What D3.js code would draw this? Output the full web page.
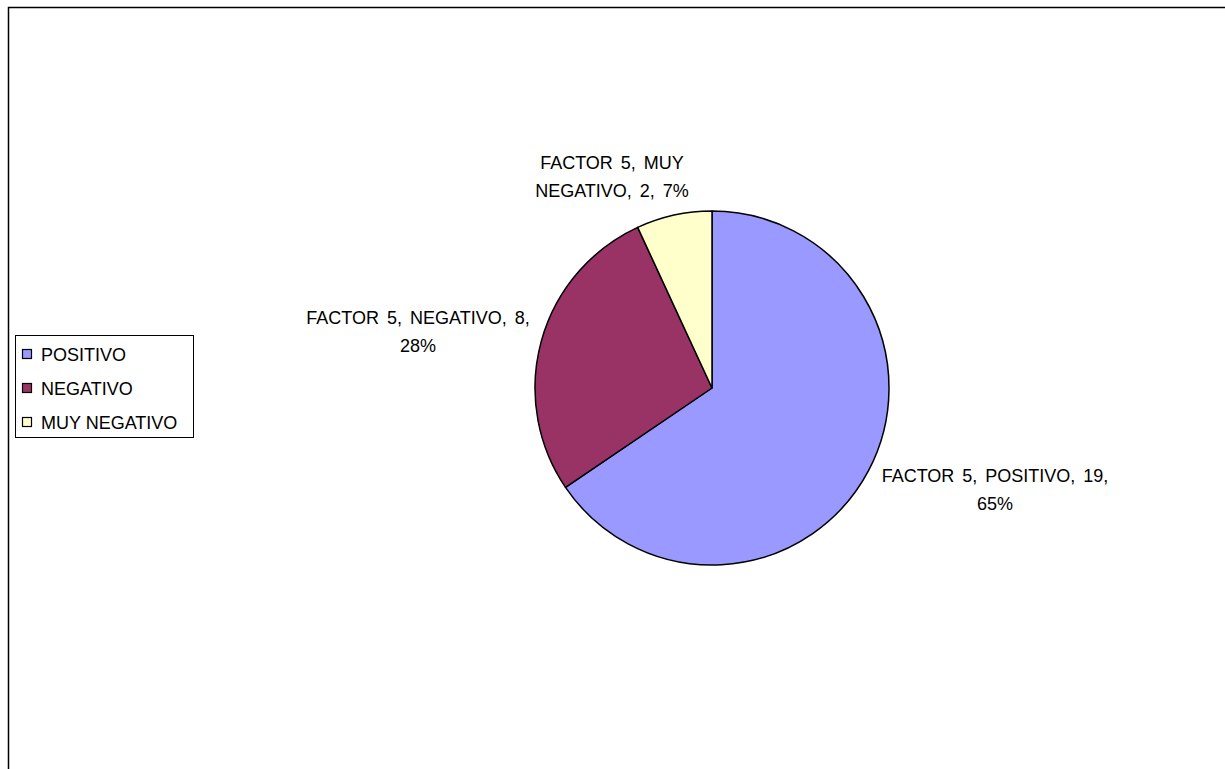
<!DOCTYPE html>
<html>
<head>
<meta charset="utf-8">
<script src="https://cdn.jsdelivr.net/npm/d3@7"></script>
<style>
html,body{margin:0;padding:0;background:#fff;}
svg{display:block;}
text{font-family:"Liberation Sans",Arial,sans-serif;fill:#000;}
</style>
</head>
<body>
<svg id="chart" width="1225" height="769"></svg>
<script>
const categories = ["POSITIVO", "NEGATIVO", "MUY NEGATIVO"];
const values = [19, 8, 2];
const percentLabels = ["65%", "28%", "7%"];
const seriesName = "FACTOR 5";
const colors = ["#9999FF", "#993366", "#FFFFCC"];

// data label lines (wrapped as in the reference)
const labelLines = [
  [seriesName + ", " + categories[0] + ", " + values[0] + ",", percentLabels[0]],
  [seriesName + ", " + categories[1] + ", " + values[1] + ",", percentLabels[1]],
  [seriesName + ", MUY", "NEGATIVO, " + values[2] + ", " + percentLabels[2]]
];
const labelPos = [[995, 482], [418, 324], [612, 169]];

const svg = d3.select("#chart");

// chart border (only top and left visible)
svg.append("rect")
  .attr("x", 8.5).attr("y", 7.5)
  .attr("width", 1300).attr("height", 900)
  .attr("fill", "none").attr("stroke", "#000").attr("stroke-width", 1.5);

const cx = 712, cy = 388, r = 177;
const pie = d3.pie().sort(null).value(d => d)(values);
const arc = d3.arc().innerRadius(0).outerRadius(r);

const g = svg.append("g").attr("transform", `translate(${cx},${cy})`);
g.selectAll("path").data(pie).enter().append("path")
  .attr("d", arc)
  .attr("fill", (d, i) => colors[i])
  .attr("stroke", "#000")
  .attr("stroke-width", 1.5)
  .attr("stroke-linejoin", "round");

// data labels
labelLines.forEach((lines, i) => {
  const t = svg.append("text")
    .attr("text-anchor", "middle")
    .attr("font-size", 18)
    .attr("word-spacing", 3);
  lines.forEach((ln, j) => {
    t.append("tspan")
      .attr("x", labelPos[i][0])
      .attr("y", labelPos[i][1] + j * 28)
      .text(ln);
  });
});

// legend
const lg = svg.append("g");
lg.append("rect")
  .attr("x", 15.5).attr("y", 335.5)
  .attr("width", 178).attr("height", 102)
  .attr("fill", "#fff").attr("stroke", "#000").attr("stroke-width", 1);
categories.forEach((c, i) => {
  const y = 354 + i * 34;
  lg.append("rect")
    .attr("x", 22.5).attr("y", y - 4.5)
    .attr("width", 9).attr("height", 9)
    .attr("fill", colors[i]).attr("stroke", "#000").attr("stroke-width", 1.2);
  lg.append("text")
    .attr("x", 41).attr("y", y + 6.5)
    .attr("font-size", 18)
    .text(c);
});
</script>
</body>
</html>
